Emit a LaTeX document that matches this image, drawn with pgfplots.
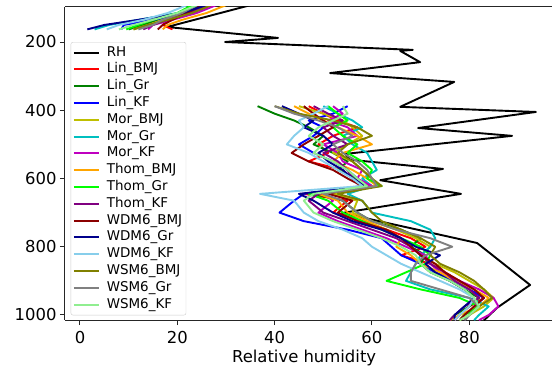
\documentclass[border=0pt]{standalone}
\usepackage{pgfplots}
\usepackage{pgfplotstable}
\usepackage{fontspec}
\setmainfont{DejaVu Sans}
\pgfplotsset{compat=1.18}

\definecolor{mplY}{HTML}{BFBF00}
\definecolor{mplC}{HTML}{00BFBF}
\definecolor{mplM}{HTML}{BF00BF}
\definecolor{mplG}{HTML}{008000}
\definecolor{cOrange}{HTML}{FFA500}
\definecolor{cLime}{HTML}{00FF00}
\definecolor{cPurple}{HTML}{800080}
\definecolor{cDarkred}{HTML}{8B0000}
\definecolor{cDarkblue}{HTML}{00008B}
\definecolor{cSky}{HTML}{87CEEB}
\definecolor{cOlive}{HTML}{808000}
\definecolor{cGrey}{HTML}{808080}
\definecolor{cLightgreen}{HTML}{90EE90}

% observed relative humidity profile (pressure level, RH)
\pgfplotstableread{
p    rh
92   35
156  17.9
188  40.7
200  29.8
223  68.4
226  65.8
259  69.9
291  51.4
317  76.9
390  65.8
405  93.7
452  69.5
475  88.8
528  54.5
545  55.5
572  74.6
605  61.7
645  78.3
701  53.9
789  81.6
912  92.5
979  85.7
1016 83
}\obs

% simulated profiles; the nan row separates the upper and lower segments
\pgfplotstableread{
p    LinBMJ LinGr LinKF MorBMJ MorGr MorKF ThomBMJ ThomGr ThomKF WDMBMJ WDMGr WDMKF WSMBMJ WSMGr WSMKF
92   26   25   27   24   25   28   30   23   26   25   26   22   27   24   24
115  22   21   23   21   20   24   26   20   22   22   21   18   23   21   20
135  18   16   15   17   12   19   21   15   18   19   12   13   18   17   15
150  17   13   9    14   6    15   18   12   15   17   5    8    14   15   11
163  19   10   8.5  11   3    14   17   9.5  13   16   1.5  5.5  11   12   8
nan  nan  nan  nan  nan  nan  nan  nan  nan  nan  nan  nan  nan  nan  nan  nan
388  47   36.5 55   45   50   52   44   51   48   46   41.5 51   40   40   54
410  50   40   52   50   53   54   47   53   51   48   45   48   45   44   55
430  53   44   47   54   56   51   50   55   54   50   48   45   52   49   52
450  57   47   50   56   58   55   53   52   50   52   46   46   57   53   49
475  52   50   48   58   54   57   57   54   52   49   50   44   60   56   47
500  49   48   45   55   56   50   60   57   55   46   52   42.5 55   52   50
525  51   52   48   52   59   53   54   55   50   43.5 49   47   53   54   48
550  47   55   52   56   60   54   52   58   53   47   51   50   56   57   52
575  54   53   55   58   61   58   56   60   55   52   54   53   58   59   55
600  56   57   57   60   58   57   59   59   56   55   56   56   60   60   57
622  60   59   58   61   60   60   61   62   59   58   59   58   62   61   59
645  46   48   46   52   55   50   49   47   49   51   45   37   53   50   48
665  55   54   44   57   58   52   53   51   47   56   48   44   58   54   46
700  52   57   41   56   60   49   55   54   50   53   52   46   60   57   48
725  58   60   46   60   68   53   59   58   55   57   56   49   62   60   52
750  63   66   55   65   72   58   63   62   60   63   62   54   66   65   57
775  68   70   62   69   73   63   66   66   65   66   66   58   70   72   62
800  71   68   64   72   72   67   65   70   68   68   69   60   73   76.5 66
825  66   71   66   70   70   71   68   72   70   70   74   63   72   71   69
850  72   70   70   73   69   72   70   71   72   73   71   66   74   69   70
875  75   72   73   77   68   74   74   67   75   75   73   70   78   68   72
900  78   76   77   80   67   78   77   63   77   78   76   74   81   68   76
925  80   79   80   83   72   82   81   70   80   81   79   78   83   74   79
950  83   82   83   85   80   85   84   78   82   83   81   81   84.7 80   81
975  80   80   81   83   84   86   82   82   79   81   79   80   82   82   82
1000 78   77   80   80   82   84   78   79   77   79   77   78   80   80   80
1015 77   76   79   78   81   82   76   78   76   78   77   77   79   79   78
}\sims

\begin{document}
\begin{tikzpicture}
\begin{axis}[
  scale only axis,
  width=487bp, height=313bp,
  xmin=-3.08, xmax=97.0,
  ymin=97.4, ymax=1014.7,
  y dir=reverse,
  axis x line=box, axis y line=left,
  axis line style={-, line width=1bp, black!85},
  xtick={0,20,40,60,80}, ytick={200,400,600,800,1000},
  xtick pos=left, ytick pos=left,
  tick align=outside, major tick length=5bp,
  every tick/.style={black!85, line width=1bp},
  minor tick num=0,
  /pgf/number format/assume math mode=true,
  /pgf/number format/set thousands separator={},
  ticklabel style={font=\fontsize{16.5}{19}\selectfont},
  xticklabel style={yshift=-3bp},
  xlabel={Relative humidity},
  xlabel style={font=\fontsize{16.5}{19}\selectfont, at={(axis description cs:0.491,0)}, anchor=north, yshift=-26bp},
  unbounded coords=jump,
  every axis plot/.append style={line width=1.9bp, line join=round},
  legend cell align=left,
  legend image code/.code={\draw[#1, line width=2bp] (0bp,0bp) -- (25bp,0bp);},
  legend style={
    at={(axis description cs:0.0117,0.888)}, anchor=north west,
    font=\fontsize{13.5}{14}\selectfont,
    draw=black!20, rounded corners=2bp, fill=white, fill opacity=0.8, text opacity=1,
    inner sep=2bp,
    nodes={text height=10bp, text depth=3bp, inner sep=1.9bp},
    /tikz/every odd column/.append style={column sep=5bp},
  },
]
\coordinate (SW) at (axis description cs:0,0);
\addplot[black] table[x=rh, y=p] {\obs};
\addlegendentry{RH}
\addplot[red]         table[x=LinBMJ, y=p] {\sims}; \addlegendentry{Lin\_BMJ}
\addplot[mplG]        table[x=LinGr,  y=p] {\sims}; \addlegendentry{Lin\_Gr}
\addplot[blue]        table[x=LinKF,  y=p] {\sims}; \addlegendentry{Lin\_KF}
\addplot[mplY]        table[x=MorBMJ, y=p] {\sims}; \addlegendentry{Mor\_BMJ}
\addplot[mplC]        table[x=MorGr,  y=p] {\sims}; \addlegendentry{Mor\_Gr}
\addplot[mplM]        table[x=MorKF,  y=p] {\sims}; \addlegendentry{Mor\_KF}
\addplot[cOrange]     table[x=ThomBMJ,y=p] {\sims}; \addlegendentry{Thom\_BMJ}
\addplot[cLime]       table[x=ThomGr, y=p] {\sims}; \addlegendentry{Thom\_Gr}
\addplot[cPurple]     table[x=ThomKF, y=p] {\sims}; \addlegendentry{Thom\_KF}
\addplot[cDarkred]    table[x=WDMBMJ, y=p] {\sims}; \addlegendentry{WDM6\_BMJ}
\addplot[cDarkblue]   table[x=WDMGr,  y=p] {\sims}; \addlegendentry{WDM6\_Gr}
\addplot[cSky]        table[x=WDMKF,  y=p] {\sims}; \addlegendentry{WDM6\_KF}
\addplot[cOlive]      table[x=WSMBMJ, y=p] {\sims}; \addlegendentry{WSM6\_BMJ}
\addplot[cGrey]       table[x=WSMGr,  y=p] {\sims}; \addlegendentry{WSM6\_Gr}
\addplot[cLightgreen] table[x=WSMKF,  y=p] {\sims}; \addlegendentry{WSM6\_KF}
\end{axis}
\pgfresetboundingbox
\useasboundingbox (SW) ++(-65bp,-48bp) rectangle ++(552bp,368bp);
\end{tikzpicture}
\end{document}
